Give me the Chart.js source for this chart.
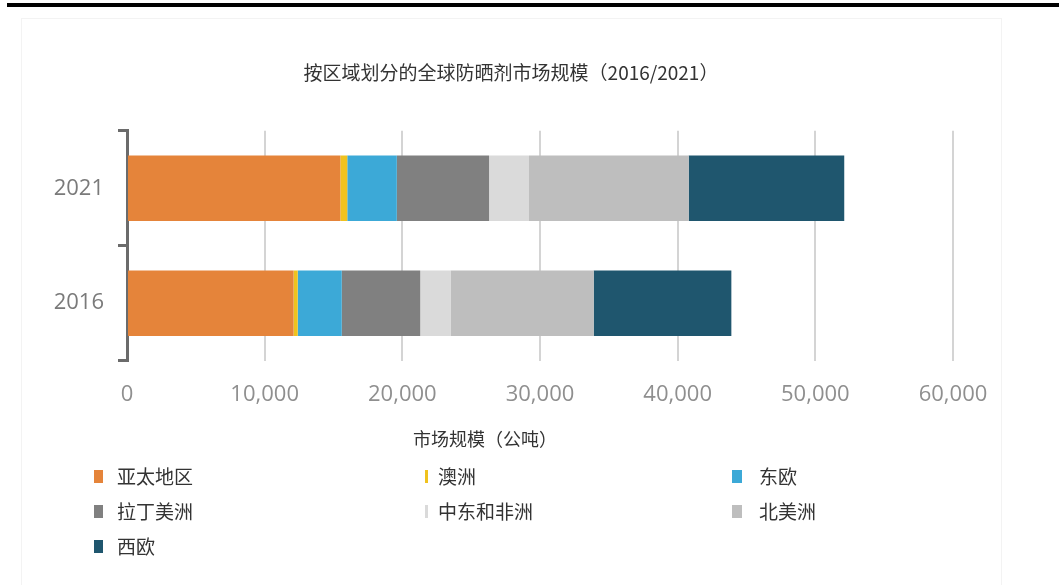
<!DOCTYPE html>
<html>
<head>
<meta charset="utf-8">
<script src="https://cdn.jsdelivr.net/npm/chart.js@4.4.1/dist/chart.umd.min.js"></script>
<style>
  html, body { margin: 0; padding: 0; background: #fff; }
  body { width: 1059px; height: 585px; position: relative; overflow: hidden;
         font-family: "Noto Sans CJK SC", "Noto Sans", sans-serif; }
  #topRule { position: absolute; left: 7px; top: 3px; width: 1052px; height: 4px; background: #000; }
  #frame { position: absolute; left: 21px; top: 18px; width: 981px; height: 580px;
           border: 1px solid #f3f3f3; box-sizing: border-box; }
  #chart { position: absolute; left: 0; top: 0; }
  #xTitle { position: absolute; left: 335px; width: 300px; top: 426px; line-height: 24px;
            text-align: center; font-size: 18px; color: #333; }
  .lg-item { position: absolute; height: 24px; line-height: 24px; font-size: 19px; color: #333; white-space: nowrap; }
  .lg-mark { position: absolute; height: 13px; }
</style>
</head>
<body>
<div id="topRule"></div>
<div id="frame"></div>
<canvas id="chart" width="1059" height="585"></canvas>
<div id="xTitle">市场规模（公吨）</div>
<div id="legend"></div>
<script>
// Years shown as rows (top to bottom)
const categories = ['2021', '2016'];

// Market size by region, metric tonnes
const asiaPacific      = [15500, 12100];
const australia        = [500, 300];
const easternEurope    = [3600, 3200];
const latinAmerica     = [6700, 5700];
const middleEastAfrica = [2900, 2200];
const northAmerica     = [11600, 10400];
const westernEurope    = [11300, 10000];

const seriesNames = ['亚太地区', '澳洲', '东欧', '拉丁美洲', '中东和非洲', '北美洲', '西欧'];
const seriesValues = [asiaPacific, australia, easternEurope, latinAmerica, middleEastAfrica, northAmerica, westernEurope];
const seriesColors = ['#E5843A', '#F0C21E', '#3CA9D7', '#808080', '#DADADA', '#BEBEBE', '#1F566E'];

// Horizontal axis tick labels
const xTickLabels = ['0', '10,000', '20,000', '30,000', '40,000', '50,000', '60,000'];

const chartTitle = '按区域划分的全球防晒剂市场规模（2016/2021）';

const latinFont = '"Open Sans", "Liberation Sans", sans-serif';
const cjkFont = '"Noto Sans CJK SC", "Noto Sans", sans-serif';

// The year labels hang further left than the narrow y-axis box; widen the
// box's label area after layout so they are not clipped.
const yLabelRoom = {
  id: 'yLabelRoom',
  afterLayout(chart) {
    chart.scales.y.left = 30;
  }
};

const chart = new Chart(document.getElementById('chart'), {
  type: 'bar',
  data: {
    labels: categories,
    datasets: seriesNames.map((name, i) => ({
      label: name,
      data: seriesValues[i],
      backgroundColor: seriesColors[i],
      borderWidth: 0,
      barPercentage: 0.57,
      categoryPercentage: 1
    }))
  },
  plugins: [yLabelRoom],
  options: {
    indexAxis: 'y',
    responsive: false,
    animation: false,
    layout: { padding: { left: 69, right: 106, top: 0, bottom: 156 } },
    plugins: {
      legend: { display: false },
      tooltip: { enabled: false },
      title: {
        display: true,
        text: chartTitle,
        color: '#333',
        font: { family: cjkFont, size: 19, weight: 'normal' },
        padding: { top: 61, bottom: 47 }
      }
    },
    scales: {
      x: {
        stacked: true,
        min: 0,
        max: 60000,
        ticks: {
          stepSize: 10000,
          autoSkip: false,
          maxRotation: 0,
          color: '#8f8f8f',
          font: { family: latinFont, size: 22 },
          padding: 21,
          callback: (v, i) => xTickLabels[i]
        },
        grid: { color: '#d4d4d4', lineWidth: 2, drawTicks: false, tickLength: 0 },
        border: { display: false }
      },
      y: {
        stacked: true,
        z: 1,
        ticks: {
          color: '#7a7a7a',
          font: { family: latinFont, size: 22 },
          padding: 14
        },
        grid: { drawOnChartArea: false, drawTicks: true, tickLength: 9, color: '#6b6b6b', lineWidth: 3, offset: true },
        border: { display: true, color: '#6b6b6b', width: 3 },
        afterFit(scale) { scale.width = 58; }
      }
    }
  }
});

// Legend laid out as a three-column grid under the chart
const legendEl = document.getElementById('legend');
const legendItems = Chart.defaults.plugins.legend.labels.generateLabels(chart);
const colMark = [94, 422, 732];
const colText = [117, 438, 759];
const rowMid = [476, 511, 546];
const markWidth = [9, 3, 10, 9, 3, 10, 9];
legendItems.forEach((item, i) => {
  const col = i % 3, row = Math.floor(i / 3);
  const mark = document.createElement('div');
  mark.className = 'lg-mark';
  mark.style.left = colMark[col] + (9 - markWidth[i]) / 2 + 'px';
  mark.style.top = (rowMid[row] - 6.5) + 'px';
  mark.style.width = markWidth[i] + 'px';
  mark.style.background = item.fillStyle;
  legendEl.appendChild(mark);
  const txt = document.createElement('div');
  txt.className = 'lg-item';
  txt.style.left = colText[col] + 'px';
  txt.style.top = (rowMid[row] - 12) + 'px';
  txt.textContent = item.text;
  legendEl.appendChild(txt);
});
</script>
</body>
</html>
